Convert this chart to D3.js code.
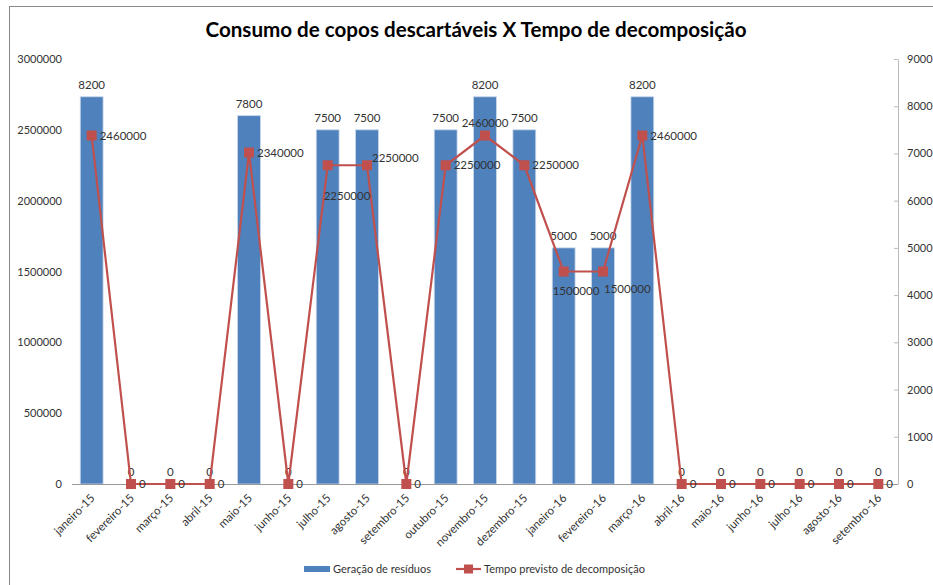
<!DOCTYPE html>
<meta charset="utf-8">
<style>
body { margin: 0; background: #fff; }
text { font-family: Lato, "Open Sans", sans-serif; fill: #333; }
.title { font-weight: bold; font-size: 20.6px; fill: #000; }
.tick text { font-size: 11px; }
.lbl { font-size: 11.5px; }
</style>
<svg width="933" height="585"></svg>
<script src="https://d3js.org/d3.v7.min.js"></script>
<script>

var meses = ["janeiro-15", "fevereiro-15", "março-15", "abril-15", "maio-15", "junho-15",
  "julho-15", "agosto-15", "setembro-15", "outubro-15", "novembro-15", "dezembro-15",
  "janeiro-16", "fevereiro-16", "março-16", "abril-16", "maio-16", "junho-16",
  "julho-16", "agosto-16", "setembro-16"];

// Geração de resíduos (eixo da direita)
var geracao = [8200, 0, 0, 0, 7800, 0, 7500, 7500, 0, 7500, 8200, 7500,
  5000, 5000, 8200, 0, 0, 0, 0, 0, 0];

// Tempo previsto de decomposição (eixo da esquerda)
var tempo = [2460000, 0, 0, 0, 2340000, 0, 2250000, 2250000, 0, 2250000, 2460000, 2250000,
  1500000, 1500000, 2460000, 0, 0, 0, 0, 0, 0];

var ticksEsq = [0, 500000, 1000000, 1500000, 2000000, 2500000, 3000000];
var ticksDir = [0, 1000, 2000, 3000, 4000, 5000, 6000, 7000, 8000, 9000];

// where the line labels sit (like excel put them)
var posLabel = {6: "below", 7: "upright", 10: "above", 12: "belowleft", 13: "belowright"};

var svg = d3.select("svg");
var mLeft = 72, mRight = 898, mTop = 59, mBottom = 484;

// outer border of the chart
svg.append("rect").attr("x", 9.5).attr("y", 6.5).attr("width", 940).attr("height", 600)
  .attr("fill", "none").attr("stroke", "#888");

svg.append("text").attr("class", "title")
  .attr("x", 476).attr("y", 37).attr("text-anchor", "middle")
  .text("Consumo de copos descartáveis X Tempo de decomposição");

var x = d3.scaleBand().domain(meses).range([mLeft, mRight]).paddingInner(0.42).paddingOuter(0.21);
var yEsq = d3.scaleLinear().domain([0, 3000000]).range([mBottom, mTop]);
var yDir = d3.scaleLinear().domain([0, 9000]).range([mBottom, mTop]);
var cx = function(i) { return x(meses[i]) + x.bandwidth() / 2; };

// left axis (no line)
var gE = svg.append("g").attr("transform", "translate(" + mLeft + ",0)")
  .call(d3.axisLeft(yEsq).tickValues(ticksEsq).tickFormat(d3.format("d")).tickSize(0).tickPadding(10));
gE.select(".domain").remove();

// right axis
var gD = svg.append("g").attr("transform", "translate(" + mRight + ",0)")
  .call(d3.axisRight(yDir).tickValues(ticksDir).tickFormat(d3.format("d")).tickSize(0).tickPadding(9));
gD.select(".domain").attr("stroke", "#bbb");
gD.selectAll(".tick").append("line").attr("x1", -4).attr("x2", 0).attr("stroke", "#bbb");

// bars
svg.append("g").selectAll("rect").data(geracao).enter().append("rect")
  .attr("x", function(d, i) { return x(meses[i]); })
  .attr("width", x.bandwidth())
  .attr("y", function(d) { return yDir(d); })
  .attr("height", function(d) { return mBottom - yDir(d); })
  .attr("fill", "#4F81BD")
  .attr("stroke", "#c6d6ea").attr("stroke-width", 0.8);

// baseline + x axis
var gX = svg.append("g").attr("transform", "translate(0," + mBottom + ")")
  .call(d3.axisBottom(x).tickSize(0));
gX.select(".domain").attr("stroke", "#999").attr("d", "M" + mLeft + ",0.5H" + mRight);
gX.selectAll(".tick text")
  .attr("x", 0).attr("y", 0).attr("dy", "0.35em")
  .attr("text-anchor", "end")
  .style("font-size", "11.5px")
  .attr("transform", "translate(1,12) rotate(-45)");

// bar labels
svg.append("g").selectAll("text").data(geracao).enter().append("text")
  .attr("class", "lbl")
  .attr("x", function(d, i) { return cx(i); })
  .attr("y", function(d) { return yDir(d) - 8; })
  .attr("text-anchor", "middle")
  .text(function(d) { return d; });

// line
var linha = d3.line().x(function(d, i) { return cx(i); }).y(function(d) { return yEsq(d); });
svg.append("path").datum(tempo).attr("d", linha)
  .attr("fill", "none").attr("stroke", "#C0504D").attr("stroke-width", 2.2);

svg.append("g").selectAll("rect").data(tempo).enter().append("rect")
  .attr("x", function(d, i) { return cx(i) - 5; })
  .attr("y", function(d) { return yEsq(d) - 5; })
  .attr("width", 10).attr("height", 10)
  .attr("fill", "#C0504D");

// line labels
svg.append("g").selectAll("text").data(tempo).enter().append("text")
  .attr("class", "lbl")
  .each(function(d, i) {
    var px = cx(i), py = yEsq(d), t = d3.select(this);
    var p = posLabel[i];
    if (p === "above") t.attr("x", px).attr("y", py - 9).attr("text-anchor", "middle");
    else if (p === "below") t.attr("x", px - 4).attr("y", py + 35);
    else if (p === "upright") t.attr("x", px + 5).attr("y", py - 3);
    else if (p === "belowleft") t.attr("x", px - 11).attr("y", py + 23);
    else if (p === "belowright") t.attr("x", px + 1).attr("y", py + 21);
    else t.attr("x", px + 8).attr("y", py + 4);
  })
  .text(function(d) { return d; });

// legend
var lg = svg.append("g").attr("transform", "translate(0,569)");
lg.append("rect").attr("x", 304).attr("y", -3).attr("width", 26).attr("height", 6).attr("fill", "#4F81BD");
lg.append("text").attr("class", "lbl").attr("x", 333).attr("y", 4).style("font-size", "11px").text("Geração de resíduos");
lg.append("line").attr("x1", 456).attr("x2", 481).attr("stroke", "#C0504D").attr("stroke-width", 2.2);
lg.append("rect").attr("x", 464).attr("y", -4.5).attr("width", 9).attr("height", 9).attr("fill", "#C0504D");
lg.append("text").attr("class", "lbl").attr("x", 484).attr("y", 4).style("font-size", "11px").text("Tempo previsto de decomposição");

</script>
